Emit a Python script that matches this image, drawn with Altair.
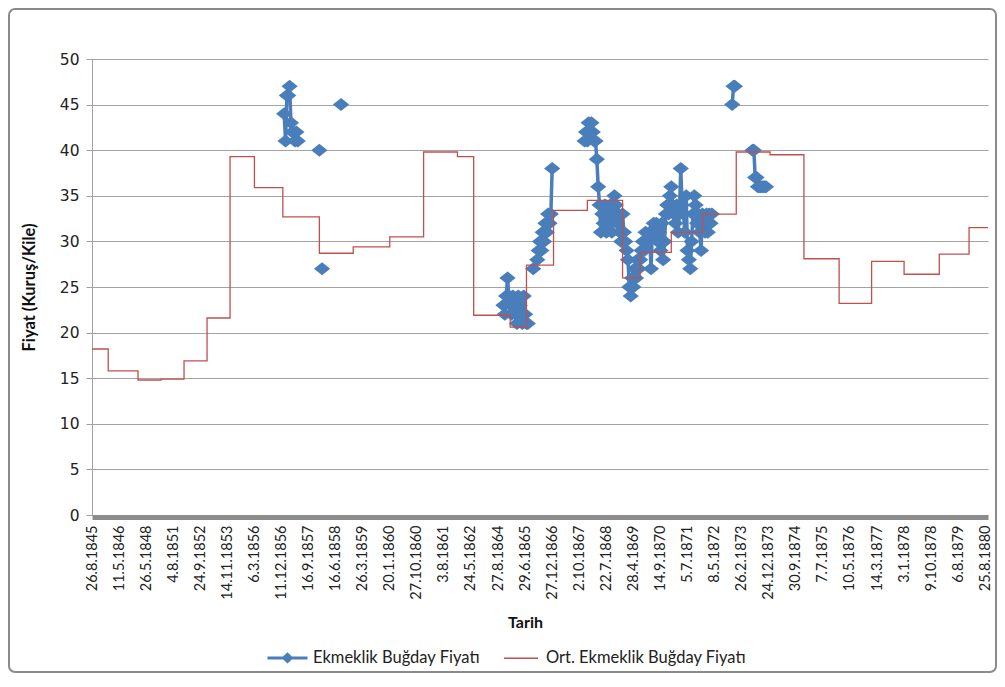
import altair as alt
import pandas as pd

BLUE_NAME = "Ekmeklik Buğday Fiyatı"
RED_NAME = "Ort. Ekmeklik Buğday Fiyatı"
BLUE = "#4a7ebb"
RED = "#c0504d"

# category-axis tick labels (one label every LABEL_STEP categories)
tick_labels = [
    "26.8.1845", "11.5.1846", "26.5.1848", "4.8.1851", "24.9.1852", "14.11.1853",
    "6.3.1856", "11.12.1856", "16.9.1857", "16.6.1858", "26.3.1859", "20.1.1860",
    "27.10.1860", "3.8.1861", "24.5.1862", "27.8.1864", "29.6.1865", "27.12.1866",
    "2.10.1867", "22.7.1868", "28.4.1869", "14.9.1870", "5.7.1871", "8.5.1872",
    "26.2.1873", "24.12.1873", "30.9.1874", "7.7.1875", "10.5.1876", "14.3.1877",
    "3.1.1878", "9.10.1878", "6.8.1879", "25.8.1880",
]
LABEL_STEP = 20
N_CAT = 662

# average price (step series): category index where each level starts, level value
red_idx = [0, 12, 34, 51, 68, 85, 102, 120, 141, 168, 193, 220, 245, 270, 282,
           309, 321, 341, 366, 392, 405, 428, 451, 476, 501, 526, 552, 576, 600,
           626, 648, 662]
red_val = [18.2, 15.8, 14.8, 14.9, 16.9, 21.6, 39.3, 35.9, 32.7, 28.7, 29.4, 30.5,
           39.8, 39.3, 21.9, 20.6, 27.4, 33.4, 34.5, 26.0, 28.8, 31.0, 33.0, 39.8,
           39.5, 28.1, 23.2, 27.8, 26.4, 28.6, 31.5, 31.5]

# observed prices (None = blank category, breaks the line)
blue_idx = [
    142, 143, 144, 145, 146, 147, 148, 149, 150, 151, 152, 153,
    168, 169, 170, 171, 184, 185,
    304, 305, 306, 307, 308, 309, 310, 311, 312, 313, 314, 315, 316, 317, 318, 319,
    320, 321, 322, 323,
    326, 327,
    329, 330, 331, 332, 333, 334, 335, 336, 337, 338, 339, 340, 341,
    364, 365, 366, 367, 368, 369, 370, 371, 372, 373, 374, 375, 376, 377, 378, 379,
    380, 381, 382, 383, 384, 385, 386, 387, 388, 389, 390, 391, 392, 393, 394, 395,
    396, 397, 398, 399, 400, 401, 402, 403, 404, 405, 406, 407, 408, 409, 410, 411,
    412, 413, 414, 415, 416, 417, 418, 419, 420, 421, 422, 423, 424, 425, 426, 427,
    428, 429, 430, 431, 432, 433, 434, 435, 436, 437, 438, 439, 440, 441, 442, 443,
    444, 445, 446, 447, 448, 449, 450, 451, 452, 453, 454, 455, 456, 457, 458, 459,
    473, 474, 475, 476,
    488, 489, 490, 491, 492, 493, 494, 495, 496, 497, 498,
]
blue_val = [
    44, 41, 46, 46, 47, 43, 42, 42, 41, 42, 41, None,
    40, None, 27, None, 45, None,
    23, 22, 24, 26, 24, 23, 22, 24, 23, 22, 21, 24, 23, 22, 21, 24,
    22, 21, 21, None,
    27, None,
    28, 29, 30, 29, 31, 30, 32, 31, 33, 32, 33, 38, None,
    41, 42, 41, 43, 42, 43, 42, 41, 41, 39, 36, 34, 31, 33, 32, 34,
    31, 33, 32, 34, 31, 33, 35, 34, 32, 33, 31, 30, 33, 31, 30, 29,
    28, 25, 24, 26, 25, 27, 26, 28, 27, 28, 29, 30, 29, 31, 30, 30,
    31, 27, 31, 32, 31, 32, 30, 31, 29, 32, 28, 30, 33, 34, 33, 35,
    36, 34, 33, 32, 34, 31, 33, 38, 34, 33, 31, 35, 29, 28, 27, 30,
    33, 35, 34, 32, 33, 31, 29, 33, 32, 31, 33, 31, 33, 32, 33, None,
    45, 47, 47, None,
    40, 40, 37, 37, 36, 36, 36, 36, 36, 36, 36,
]

# ---- tables built from the arrays ----
red_df = pd.DataFrame({"idx": red_idx, "value": red_val, "series": RED_NAME})
rows, seg = [], 0
for i, v in zip(blue_idx, blue_val):
    if v is None:
        seg += 1
        continue
    rows.append({"idx": i, "value": v, "series": BLUE_NAME, "seg": seg})
blue_df = pd.DataFrame(rows)
legend_df = pd.DataFrame({"idx": [0, 0], "value": [0, 0], "series": [BLUE_NAME, RED_NAME]})

label_array = "[" + ",".join("'" + s + "'" for s in tick_labels) + "]"
label_expr = label_array + "[round(datum.value / " + str(LABEL_STEP) + ")]"

x_enc = alt.X(
    "idx:Q",
    scale=alt.Scale(domain=[0, N_CAT], nice=False, zero=False),
    axis=alt.Axis(
        values=[i * LABEL_STEP for i in range(len(tick_labels))],
        labelExpr=label_expr,
        title="Tarih",
        grid=False, ticks=False,
        domainColor="#8c8c8c", domainWidth=5, offset=2,
        labelAngle=270, labelAlign="right", labelBaseline="middle",
        labelFont="Lato", labelFontSize=14.5, labelColor="#222222",
        labelPadding=8, labelOverlap=False,
        titleFont="Lato", titleFontSize=16, titleFontWeight="bold",
        titleColor="#111111", titleX=433, titleY=105,
        titleAlign="center", titleBaseline="middle",
    ),
)
y_enc = alt.Y(
    "value:Q",
    scale=alt.Scale(domain=[0, 50], nice=False),
    axis=alt.Axis(
        values=list(range(0, 51, 5)),
        title="Fiyat (Kuruş/Kile)",
        grid=True, gridColor="#a4a4a4", gridWidth=1,
        domainColor="#a0a0a0", tickColor="#a0a0a0", tickSize=6,
        labelFont="DejaVu Sans", labelFontSize=15.5, labelColor="#222222",
        labelPadding=7,
        titleFont="Lato", titleFontSize=16.5, titleFontWeight="bold",
        titleColor="#111111", titleX=-63, titleY=228, titleAngle=270,
        titleAlign="center", titleBaseline="middle",
    ),
)

legend = alt.Legend(
    orient="none", legendX=174, legendY=577, direction="horizontal", title=None,
    symbolSize=1600, symbolOpacity=1, labelFont="Lato", labelFontSize=16.5,
    labelColor="#222222", labelOffset=4, columnPadding=20, labelLimit=0,
)
dom = [BLUE_NAME, RED_NAME]
PATH_BLUE = "M-1,0L1,0M-0.19,0L0,-0.18L0.19,0L0,0.18Z"
PATH_RED = "M-0.85,0L0.85,0"
PATH_MARKER = "M-1.15,0L0,-0.92L1.15,0L0,0.92Z"

frame = alt.Chart(pd.DataFrame({"k": [0]})).mark_rect(
    fillOpacity=0, stroke="#8a8a8a", strokeWidth=2, cornerRadius=6
).encode(x=alt.value(-83), x2=alt.value(904), y=alt.value(-50), y2=alt.value(613))

blue_line = alt.Chart(blue_df).mark_line(strokeWidth=3.5, color=BLUE).encode(
    x=x_enc, y=y_enc, detail="seg:N"
)
blue_pts = alt.Chart(blue_df).mark_point(
    shape=PATH_MARKER, filled=True, size=200, opacity=1, color=BLUE
).encode(x=x_enc, y=y_enc)
red_line = alt.Chart(red_df).mark_line(
    strokeWidth=1.3, interpolate="step-after", color=RED
).encode(x=x_enc, y=y_enc)

legend_layer = alt.Chart(legend_df).transform_filter("false").mark_point(
    filled=False, opacity=1
).encode(
    x=x_enc, y=y_enc,
    stroke=alt.Stroke("series:N", scale=alt.Scale(domain=dom, range=[BLUE, RED]), legend=legend),
    fill=alt.Fill("series:N", scale=alt.Scale(domain=dom, range=[BLUE, "transparent"]), legend=legend),
    shape=alt.Shape("series:N", scale=alt.Scale(domain=dom, range=[PATH_BLUE, PATH_RED]), legend=legend),
    strokeWidth=alt.StrokeWidth("series:N", scale=alt.Scale(domain=dom, range=[3, 1.3]), legend=legend),
)

chart = alt.layer(frame, blue_line, blue_pts, red_line, legend_layer).properties(
    width=896, height=456,
    autosize=alt.AutoSizeParams(type="none"),
    padding={"left": 84, "top": 51, "right": 9, "bottom": 158},
    background="white",
).configure_view(stroke=None)

chart.save("out.html", embed_options={"renderer": "svg", "actions": False})
